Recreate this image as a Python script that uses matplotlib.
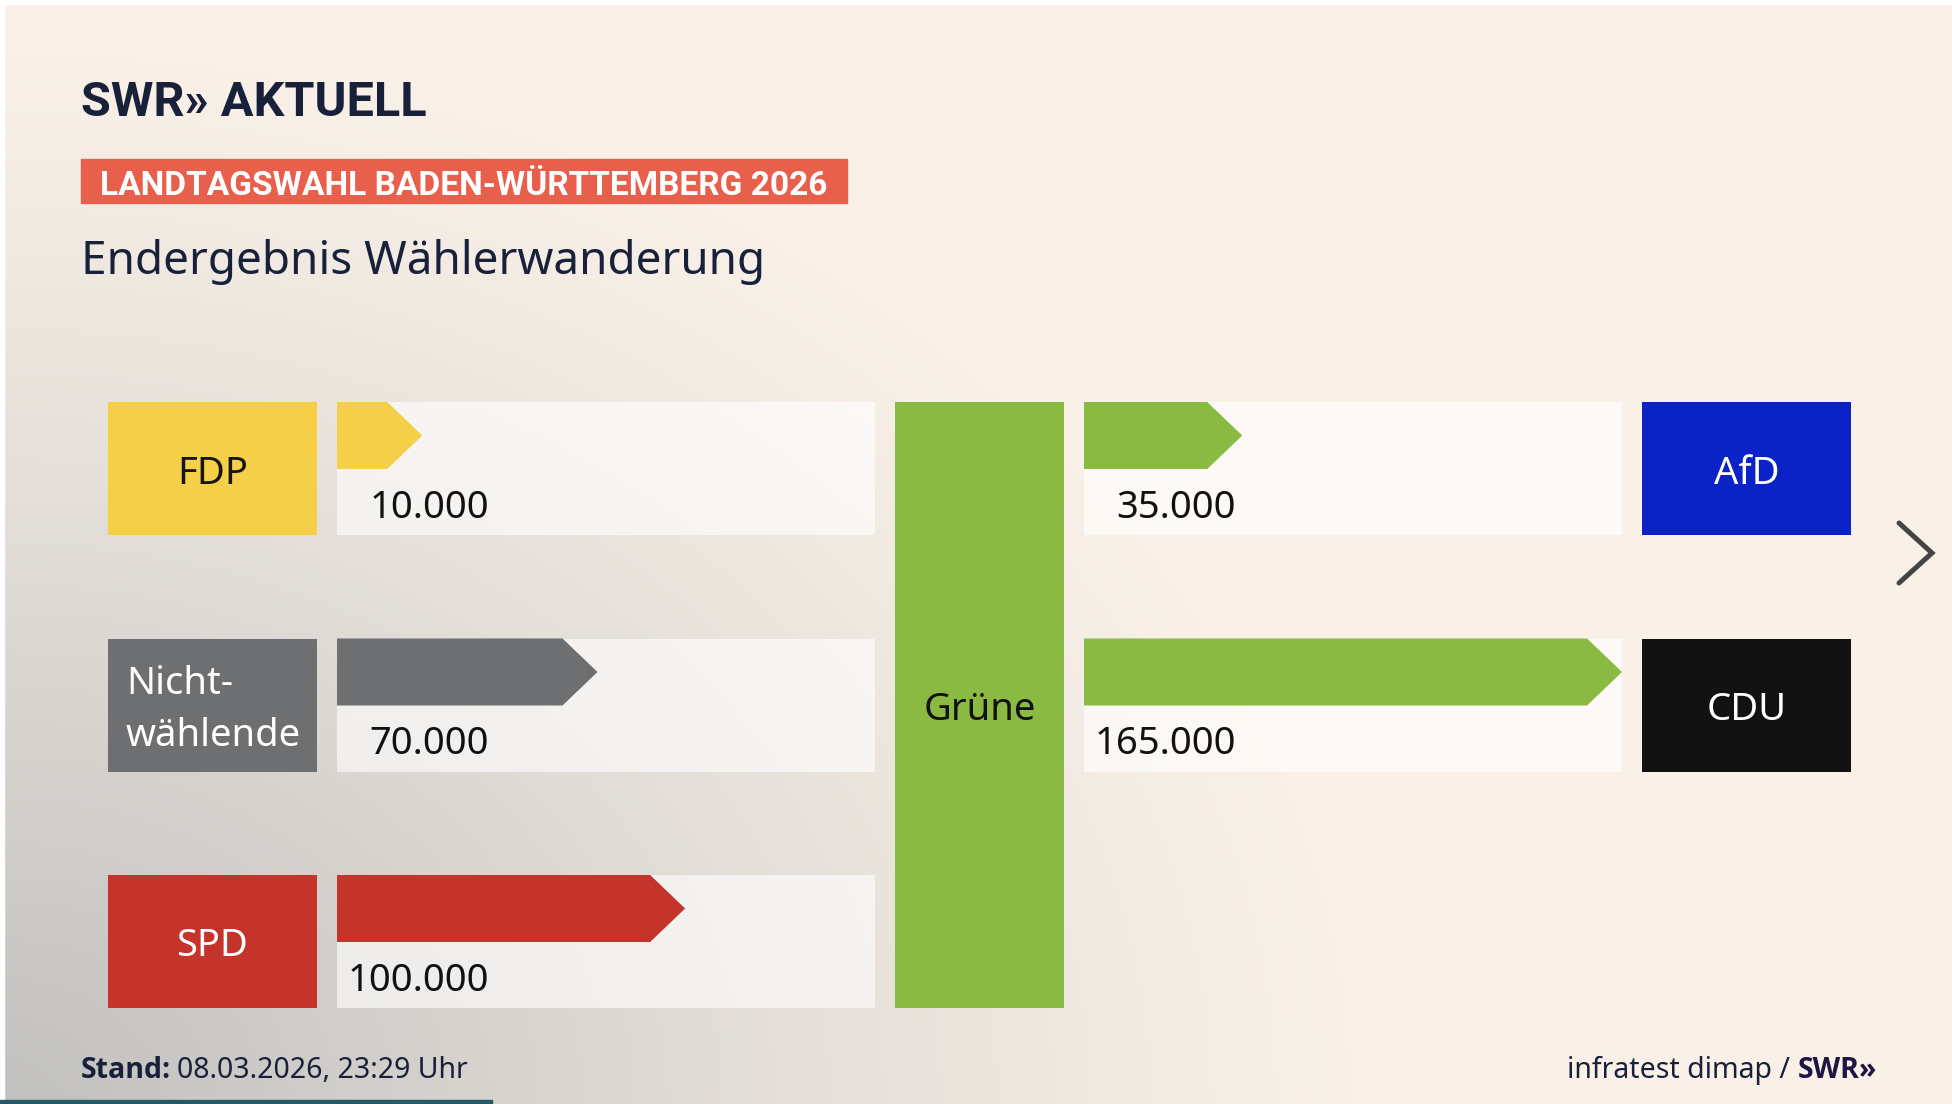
import numpy as np
import matplotlib
matplotlib.use("Agg")
import matplotlib.pyplot as plt
from matplotlib.patches import Rectangle, Polygon

# Wählerwanderung Grüne, Landtagswahl BW 2026
quellen = ["FDP", "Nicht-\nwählende", "SPD"]
quellen_werte = [10000, 70000, 100000]
quellen_farben = ["#f5cf47", "#6e6f70", "#c4342b"]
quellen_text = ["#151515", "white", "white"]

ziele = ["AfD", "CDU"]
ziele_werte = [35000, 165000]
ziele_farben = ["#0b22c6", "#121212"]
ziele_text = ["white", "white"]

partei = "Grüne"
partei_farbe = "#8aba41"

titel = "Endergebnis Wählerwanderung"
banner = "LANDTAGSWAHL BADEN-WÜRTTEMBERG 2026"
stand_datum = "08.03.2026, 23:29 Uhr"
quelle = "infratest dimap / "

NAVY = "#18203a"
W, H = 1952, 1104
BODY = ["Noto Sans", "DejaVu Sans"]
BOLD = ["Open Sans", "DejaVu Sans"]
NARROW = ["Roboto", "DejaVu Sans"]


def tsd(v):
    return f"{v:,}".replace(",", ".")


fig = plt.figure(figsize=(W / 100, H / 100), dpi=100)
ax = fig.add_axes([0, 0, 1, 1])
ax.set_xlim(0, W)
ax.set_ylim(H, 0)
ax.axis("off")

# hintergrund: creme, unten links grau
yy, xx = np.mgrid[0:H, 0:W]
r = np.sqrt((xx / 1350.0) ** 2 + ((H - yy) / 1050.0) ** 2)
w = np.clip(1 - r, 0, 1) ** 1.1 * 0.95
creme = np.array([249, 241, 232]) / 255
grau = np.array([190, 190, 189]) / 255
bg = creme[None, None, :] * (1 - w[..., None]) + grau[None, None, :] * w[..., None]
ax.imshow(bg, extent=(0, W, H, 0), zorder=0, aspect="auto")
ax.add_patch(Rectangle((0, 0), W, 4, color="white", zorder=1))
ax.add_patch(Rectangle((0, 0), 4, H, color="white", zorder=1))
ax.add_patch(Rectangle((0, 1100), 492, 4, color="#27596b", zorder=1))

# kopf
ax.text(81, 116, "SWR» AKTUELL", fontsize=35, fontweight="bold", color=NAVY,
        family=NARROW, va="baseline", ha="left")
ax.add_patch(Rectangle((81, 159), 766, 44, color="#e8604c", zorder=2))
ax.text(100, 195, banner, fontsize=24.1, fontweight="bold", color="white",
        family=NARROW, va="baseline", ha="left", zorder=3)
ax.text(81, 274, titel, fontsize=33, color=NAVY, family=BODY, va="baseline")

# layout
row_top, row_pitch, row_h = 402, 236.5, 133
box_w, track_w, hub_w, gap = 209, 538, 169, 20
x_box_l = 108
x_track_l = x_box_l + box_w + gap
x_hub = x_track_l + track_w + gap
x_track_r = x_hub + hub_w + gap
x_box_r = x_track_r + track_w + gap
arrow_h, tip_w, base_px = 67, 35, 56
px_per_vote = (track_w - base_px) / max(quellen_werte + ziele_werte)
FS = 27.5


def pfeil(x0, y0, wert, farbe):
    L = base_px + wert * px_per_vote
    pts = [(x0, y0), (x0 + L - tip_w, y0), (x0 + L, y0 + arrow_h / 2),
           (x0 + L - tip_w, y0 + arrow_h), (x0, y0 + arrow_h)]
    ax.add_patch(Polygon(pts, closed=True, color=farbe, lw=0, zorder=4))


def zeile(i, x_box, x_track, name, wert, farbe, tfarbe):
    y0 = row_top + i * row_pitch
    ax.add_patch(Rectangle((x_track, y0), track_w, row_h, color="white",
                           alpha=0.62, lw=0, zorder=2))
    ax.add_patch(Rectangle((x_box, y0), box_w, row_h, color=farbe, lw=0, zorder=3))
    pfeil(x_track, y0, wert, farbe if x_track < x_hub else partei_farbe)
    ax.text(x_track + 152, y0 + 116, tsd(wert), fontsize=FS, color="#111111",
            family=BODY, ha="right", va="baseline", zorder=5)
    if "\n" in name:
        z1, z2 = name.split("\n")
        ax.text(x_box + 18, y0 + 55, z1, fontsize=FS, color=tfarbe, family=BODY,
                va="baseline", zorder=5)
        ax.text(x_box + 18, y0 + 108, z2, fontsize=FS, color=tfarbe, family=BODY,
                va="baseline", zorder=5)
    else:
        ax.text(x_box + box_w / 2, y0 + row_h / 2 + 15, name, fontsize=FS,
                color=tfarbe, family=BODY, ha="center", va="baseline", zorder=5)


for i, (n, v, f, t) in enumerate(zip(quellen, quellen_werte, quellen_farben, quellen_text)):
    zeile(i, x_box_l, x_track_l, n, v, f, t)
for i, (n, v, f, t) in enumerate(zip(ziele, ziele_werte, ziele_farben, ziele_text)):
    zeile(i, x_box_r, x_track_r, n, v, f, t)

hub_bottom = row_top + 2 * row_pitch + row_h
ax.add_patch(Rectangle((x_hub, row_top), hub_w, hub_bottom - row_top,
                       color=partei_farbe, lw=0, zorder=3))
ax.text(x_hub + hub_w / 2, (row_top + hub_bottom) / 2 + 15, partei, fontsize=FS,
        color="#111111", family=BODY, ha="center", va="baseline", zorder=5)

# weiter-pfeil
ax.plot([1899, 1932, 1899], [523, 553, 583], color="#444444", lw=3.6,
        solid_capstyle="round", solid_joinstyle="miter", zorder=5)

# fuss
renderer = fig.canvas.get_renderer()
t1 = ax.text(81, 1078, "Stand:", fontsize=20.5, fontweight="bold", color=NAVY,
             family=BOLD, va="baseline")
b1 = t1.get_window_extent(renderer)
ax.text(81 + b1.width + 6, 1078, stand_datum, fontsize=20.5, color=NAVY,
        family=BODY, va="baseline")

t2 = ax.text(1877, 1078, "SWR»", fontsize=20.5, fontweight="bold", color="#1e1446",
             family=BOLD, va="baseline", ha="right")
b2 = t2.get_window_extent(renderer)
ax.text(1877 - b2.width, 1078, quelle, fontsize=20.5, color=NAVY,
        family=BODY, va="baseline", ha="right")

fig.savefig("out.png", dpi=100)
